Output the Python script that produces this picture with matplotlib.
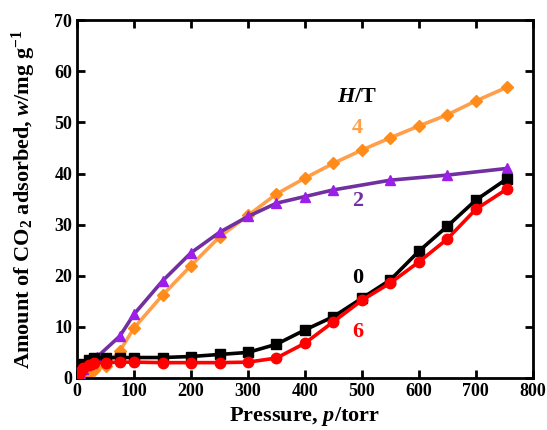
import matplotlib
matplotlib.use("Agg")
import matplotlib.pyplot as plt

# CO2 adsorption isotherms at different H/T ratios
plt.rcParams['font.family'] = ['Liberation Serif', 'DejaVu Serif']
plt.rcParams['font.weight'] = 'bold'
plt.rcParams['mathtext.fontset'] = 'custom'
plt.rcParams['mathtext.rm'] = 'Liberation Serif:bold'
plt.rcParams['mathtext.it'] = 'Liberation Serif:italic:bold'
plt.rcParams['mathtext.bf'] = 'Liberation Serif:bold'

# H/T = 0 (black squares)
p_0 = [0, 5, 10, 20, 30, 50, 75, 100, 150, 200, 250, 300, 350, 400, 450, 500, 550, 600, 650, 700, 755]
w_0 = [0.5, 1.8, 2.8, 3.5, 3.9, 4.0, 4.0, 4.0, 4.0, 4.2, 4.6, 5.0, 6.6, 9.4, 12.0, 15.6, 19.2, 24.8, 29.7, 34.8, 39.0]

# H/T = 6 (red circles)
p_6 = [0, 5, 10, 20, 30, 50, 75, 100, 150, 200, 250, 300, 350, 400, 450, 500, 550, 600, 650, 700, 755]
w_6 = [0.3, 1.2, 2.0, 2.6, 2.9, 3.0, 3.1, 3.1, 3.0, 3.0, 3.0, 3.1, 3.9, 6.8, 11.0, 15.2, 18.6, 22.7, 27.2, 33.0, 37.0]

# H/T = 2 (purple triangles)
p_2 = [0, 5, 10, 20, 35, 75, 100, 150, 200, 250, 300, 350, 400, 450, 550, 650, 755]
w_2 = [0.3, 1.0, 1.8, 2.8, 4.1, 8.2, 12.5, 19.0, 24.5, 28.5, 31.6, 34.2, 35.5, 36.8, 38.7, 39.7, 41.0]

# H/T = 4 (orange diamonds)
p_4 = [0, 5, 10, 20, 30, 50, 75, 100, 150, 200, 250, 300, 350, 400, 450, 500, 550, 600, 650, 700, 755]
w_4 = [0.0, 0.3, 0.5, 1.0, 1.5, 2.3, 5.3, 9.8, 16.2, 22.0, 27.6, 31.8, 36.0, 39.1, 42.0, 44.6, 47.0, 49.3, 51.5, 54.2, 56.9]

fig = plt.figure(figsize=(5.47, 4.30), dpi=100)
ax = fig.add_axes([0.141, 0.121, 0.833, 0.832])

ax.plot(p_4, w_4, color='#FF9F4A', lw=2.6, marker='D', ms=6, mfc='#FF8C1A', mec='#FF8C1A', zorder=2)
ax.plot(p_2, w_2, color='#7030A0', lw=2.6, marker='^', ms=7.5, mfc='#9B1FE8', mec='#9B1FE8', zorder=3)
ax.plot(p_0, w_0, color='black', lw=2.6, marker='s', ms=6.5, zorder=4)
ax.plot(p_6, w_6, color='#FF0000', lw=2.6, marker='o', ms=7.5, zorder=5)

ax.text(492, 55, r'$H$/T', fontsize=16, ha='center', va='center')
ax.text(492, 48.9, '4', color='#FF9F4A', fontsize=16, ha='center', va='center')
ax.text(492, 34.6, '2', color='#7030A0', fontsize=16, ha='center', va='center')
ax.text(492, 19.6, '0', color='black', fontsize=16, ha='center', va='center')
ax.text(492, 9.0, '6', color='#FF0000', fontsize=16, ha='center', va='center')

ax.set_xlim(0, 800)
ax.set_ylim(0, 70)
ax.set_xticks(range(0, 801, 100))
ax.set_yticks(range(0, 71, 10))
ax.tick_params(direction='in', length=6, width=2, labelsize=13, top=True, right=True)
for lbl in ax.get_xticklabels() + ax.get_yticklabels():
    lbl.set_fontweight('bold')
for s in ax.spines.values():
    s.set_linewidth(2)

ax.set_xlabel(r'Pressure, $p$/torr', fontsize=16, fontweight='bold', labelpad=4)
ax.set_ylabel(r'Amount of CO$_2$ adsorbed, $w$/mg g$^{-1}$', fontsize=16, fontweight='bold', labelpad=12)

fig.savefig('out.png', dpi=100)
